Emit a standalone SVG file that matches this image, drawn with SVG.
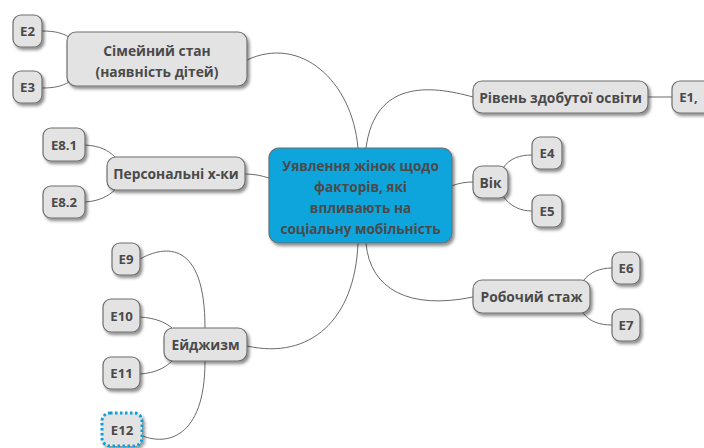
<svg xmlns="http://www.w3.org/2000/svg" width="704" height="448" viewBox="0 0 704 448">
<defs>
<filter id="sh" x="-20%" y="-20%" width="150%" height="160%">
<feDropShadow dx="2" dy="2.5" stdDeviation="1.5" flood-color="#000" flood-opacity="0.45"/>
</filter>
<style>
.n{fill:#e3e3e3;stroke:#6f6f6f;stroke-width:1.2;filter:url(#sh)}
.c{fill:#0ea5dc;stroke:#6f6f6f;stroke-width:1.2;filter:url(#sh)}
.d{fill:#e3e3e3;stroke:#10a0d8;stroke-width:3;stroke-dasharray:2.5 2.5;filter:url(#sh)}
text{font-family:"Open Sans","Noto Sans","DejaVu Sans",sans-serif;font-weight:bold;fill:#4a4a4a;text-anchor:middle;dominant-baseline:central}
.t{font-size:13.8px}
.s{font-size:13.2px}
.m{font-size:13.6px}
.l{fill:none;stroke:#6a6a6a;stroke-width:1}
</style>
</defs>
<rect width="704" height="448" fill="#fff"/>
<g id="connectors">
<path class="l" d="M247,60 C300,35 352,80 358,148"/>
<path class="l" d="M366,148 C375,80 430,85 473,97"/>
<path class="l" d="M648,97 L672,97"/>
<path class="l" d="M451,186 C460,183 465,182 473,182"/>
<path class="l" d="M503,168 C510,158 520,155 532,155"/>
<path class="l" d="M503,196 C510,206 520,211 532,211"/>
<path class="l" d="M366,243 C370,290 410,310 473,297"/>
<path class="l" d="M583,281 C590,272 600,268 612,268"/>
<path class="l" d="M583,313 C590,322 600,325 612,325"/>
<path class="l" d="M358,243 C355,320 310,360 247,346"/>
<path class="l" d="M140,259 C165,245 205,240 205,328"/>
<path class="l" d="M143,436 C165,445 205,440 205,361"/>
<path class="l" d="M140,317 C155,318 165,322 172,328"/>
<path class="l" d="M140,374 C155,373 165,368 172,361"/>
<path class="l" d="M245,174 C255,174 262,176 269,178"/>
<path class="l" d="M85,145 C100,146 108,150 115,157"/>
<path class="l" d="M85,202 C100,201 108,196 115,190"/>
<path class="l" d="M42,31 C55,31 62,33 69,37"/>
<path class="l" d="M42,88 C55,88 62,86 69,82"/>
</g>
<g id="center">
<rect class="c" x="269" y="148" width="183" height="95" rx="10"/>
<text class="m" x="360.5" y="165">Уявлення жінок щодо</text>
<text class="m" x="360.5" y="186">факторів, які</text>
<text class="m" x="360.5" y="207">впливають на</text>
<text class="m" x="360.5" y="228">соціальну мобільність</text>
</g>
<g id="simeinyi">
<rect class="n" x="67" y="32" width="180" height="54" rx="9"/>
<text class="t" x="157" y="50">Сімейний стан</text>
<text class="t" x="157" y="71">(наявність дітей)</text>
</g>
<g id="e2"><rect class="n" x="13" y="15" width="29" height="32" rx="8"/><text class="s" x="27.5" y="31">E2</text></g>
<g id="e3"><rect class="n" x="13" y="71" width="29" height="32" rx="8"/><text class="s" x="27.5" y="87">E3</text></g>
<g id="osvita">
<rect class="n" x="473" y="81" width="175" height="32" rx="9"/>
<text class="t" x="560.5" y="97">Рівень здобутої освіти</text>
</g>
<g id="e1"><rect class="n" x="672" y="81" width="40" height="32" rx="8"/><text class="s" x="688.5" y="97">E1,</text></g>
<g id="vik">
<rect class="n" x="473" y="166" width="35" height="32" rx="9"/>
<text class="t" x="490.5" y="182">Вік</text>
</g>
<g id="e4"><rect class="n" x="532" y="137" width="30" height="32" rx="8"/><text class="s" x="547" y="153">E4</text></g>
<g id="e5"><rect class="n" x="532" y="195" width="30" height="32" rx="8"/><text class="s" x="547" y="211">E5</text></g>
<g id="personalni">
<rect class="n" x="107" y="157" width="138" height="33" rx="9"/>
<text class="t" x="176" y="173.5">Персональні х-ки</text>
</g>
<g id="e81"><rect class="n" x="43" y="128" width="42" height="33" rx="8"/><text class="s" x="64" y="144.5">E8.1</text></g>
<g id="e82"><rect class="n" x="43" y="186" width="42" height="32" rx="8"/><text class="s" x="64" y="202">E8.2</text></g>
<g id="stazh">
<rect class="n" x="473" y="280" width="117" height="33" rx="9"/>
<text class="t" x="531.5" y="296.5">Робочий стаж</text>
</g>
<g id="e6"><rect class="n" x="612" y="252" width="28" height="32" rx="8"/><text class="s" x="626" y="268">E6</text></g>
<g id="e7"><rect class="n" x="612" y="309" width="28" height="32" rx="8"/><text class="s" x="626" y="325">E7</text></g>
<g id="eidzhyzm">
<rect class="n" x="164" y="328" width="83" height="33" rx="9"/>
<text class="t" x="205.5" y="344.5">Ейджизм</text>
</g>
<g id="e9"><rect class="n" x="112" y="243" width="28" height="32" rx="8"/><text class="s" x="126" y="259">E9</text></g>
<g id="e10"><rect class="n" x="103" y="299" width="37" height="33" rx="8"/><text class="s" x="121.5" y="315.5">E10</text></g>
<g id="e11"><rect class="n" x="103" y="357" width="37" height="32" rx="8"/><text class="s" x="121.5" y="373">E11</text></g>
<g id="e12"><rect class="d" x="102" y="413" width="40" height="33" rx="8"/><text class="s" x="122" y="429.5">E12</text></g>
</svg>
